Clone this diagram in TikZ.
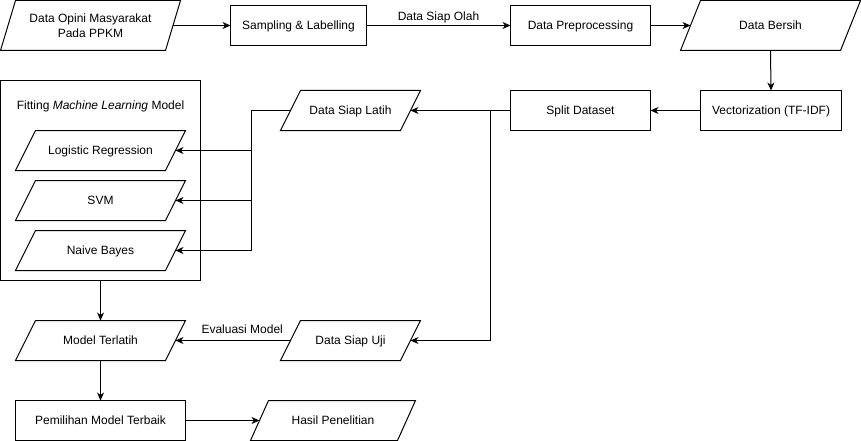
\documentclass[tikz,border=0pt]{standalone}
\usepackage{fontspec}
\setmainfont{Liberation Sans}
\usetikzlibrary{arrows.meta,calc}
\tikzset{
  every node/.style={font=\fontsize{12}{15}\selectfont, outer sep=0pt},
  oneline/.style={text height=8.6pt, text depth=0pt},
  shapeline/.style={draw, line width=1pt},
  rbox/.style={shapeline, inner sep=0pt, align=center, oneline},
  pgtext/.style={inner sep=0pt, align=center},
  conn/.style={line width=1pt},
  arr/.style={line width=1pt, -{Stealth[length=8pt,width=7pt,inset=2.5pt]}},
  lbl/.style={inner sep=1pt, oneline}
}
\newcommand{\pgram}[7][oneline]{%
  \node[pgtext, #1, minimum width=#4pt, minimum height=#5pt] (#2) at (#3) {#7};
  \draw[shapeline] ([xshift=#6pt]#2.north west) -- (#2.north east) -- ([xshift=-#6pt]#2.south east) -- (#2.south west) -- cycle;
  \coordinate (#2-r) at ([xshift={-0.5*#6pt}]#2.east);
  \coordinate (#2-l) at ([xshift={0.5*#6pt}]#2.west);
}
\begin{document}
\begin{tikzpicture}[x=1pt,y=-1pt]
\useasboundingbox (-0.5,-0.5) rectangle (860.5,440.5);
% top row
\pgram[]{opini}{90,25}{180}{50}{15}{Data Opini Masyarakat\\Pada PPKM}
\node[rbox, minimum width=136pt, minimum height=40pt] (sampling) at (298,25) {Sampling \& Labelling};
\node[rbox, minimum width=140pt, minimum height=40pt] (prep) at (580,25) {Data Preprocessing};
\pgram{bersih}{770,25}{180}{50}{20}{Data Bersih}
% second row
\node[rbox, minimum width=141pt, minimum height=40pt] (vector) at (770.5,110) {Vectorization (TF-IDF)};
\node[rbox, minimum width=140pt, minimum height=40pt] (split) at (580,110) {Split Dataset};
\pgram{latih}{350,110}{140}{40}{20}{Data Siap Latih}
% fitting box
\node[shapeline, inner sep=0pt, minimum width=200pt, minimum height=200pt] (fitbox) at (100,180) {};
\node[pgtext, oneline] (fittitle) at (100,105) {Fitting \textit{Machine Learning} Model};
\pgram{lr}{100,150}{170}{40}{20}{Logistic Regression}
\pgram{svm}{100,200}{170}{40}{20}{SVM}
\pgram{nb}{100,250}{170}{40}{20}{Naive Bayes}
% lower rows
\pgram{terlatih}{100,340}{170}{40}{20}{Model Terlatih}
\pgram{uji}{350,340}{140}{40}{20}{Data Siap Uji}
\node[rbox, minimum width=170pt, minimum height=40pt] (pemilihan) at (100,420) {Pemilihan Model Terbaik};
\pgram{hasil}{332.5,420}{165}{40}{18}{Hasil Penelitian}
% junctions
\coordinate (j1) at (490,110);
\coordinate (j2) at (251,110);
% connectors
\draw[arr] (opini-r) -- (sampling.west);
\draw[arr] (sampling.east) -- node[lbl, pos=0.5, yshift=9pt] (olah) {Data Siap Olah} (prep.west);
\draw[arr] (prep.east) -- (bersih-l);
\draw[arr] (bersih.south) -- (vector.north);
\draw[arr] (vector.west) -- (split.east);
\draw[arr] (split.west) -- (latih-r);
\draw[arr] (j1) |- (uji-r);
\draw[conn] (latih-l) -- (j2);
\draw[arr] (j2) |- (lr-r);
\draw[arr] (j2) |- (svm-r);
\draw[arr] (j2) |- (nb-r);
\draw[arr] (fitbox.south) -- (terlatih.north);
\draw[arr] (uji-l) -- node[lbl, pos=0.42, yshift=11pt] (eval) {Evaluasi Model} (terlatih-r);
\draw[arr] (terlatih.south) -- (pemilihan.north);
\draw[arr] (pemilihan.east) -- (hasil-l);
\end{tikzpicture}
\end{document}
